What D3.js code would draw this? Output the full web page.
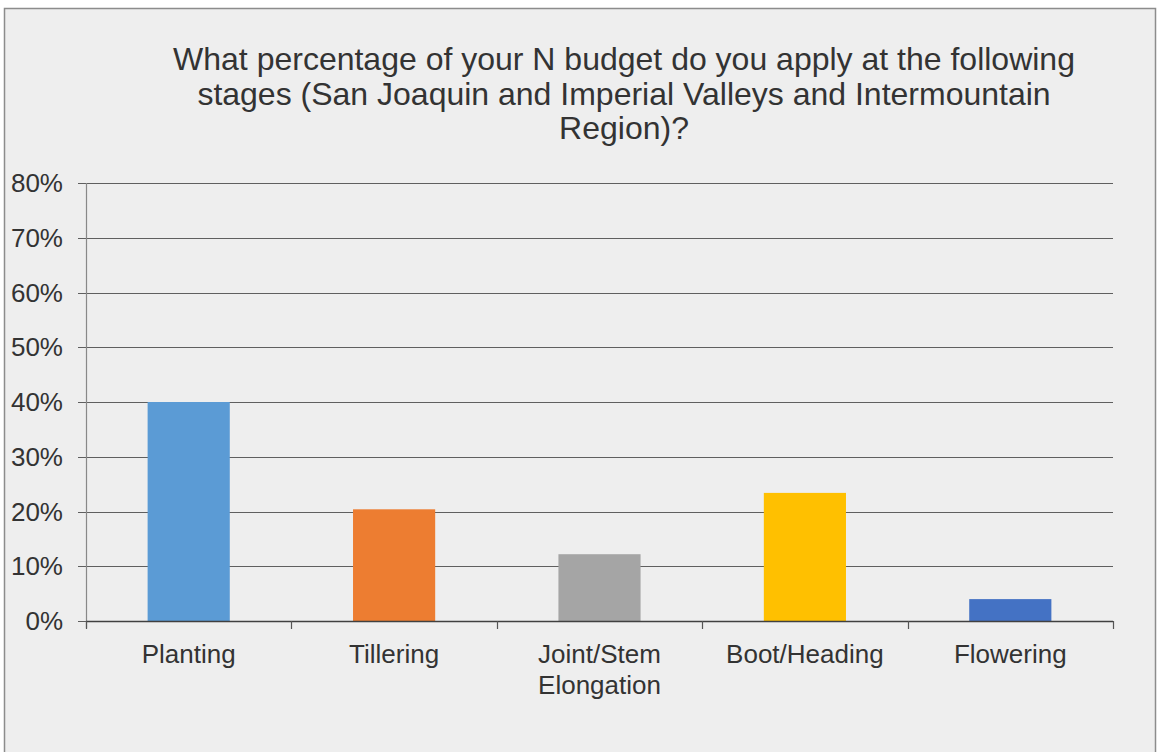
<!DOCTYPE html>
<html><head><meta charset="utf-8">
<script src="https://cdn.jsdelivr.net/npm/d3@7"></script>
<style>
html,body{margin:0;padding:0;background:#fff;}
svg{display:block;}
</style></head>
<body>
<script>
const categories = [["Planting"],["Tillering"],["Joint/Stem","Elongation"],["Boot/Heading"],["Flowering"]];
const values = [40, 20.4, 12.2, 23.4, 4.0];
const colors = ["#5b9bd5","#ed7d31","#a5a5a5","#ffc000","#4472c4"];
const yTicks = [0,10,20,30,40,50,60,70,80];
const titleLines = ["What percentage of your N budget do you apply at the following","stages (San Joaquin and Imperial Valleys and Intermountain","Region)?"];

(function(){
const W=1157,H=752;
const svg=d3.select("body").append("svg").attr("width",W).attr("height",H);
svg.append("rect").attr("x",4.5).attr("y",8.5).attr("width",1151).attr("height",760)
  .attr("fill","#eeeeee").attr("stroke","#8c8c8c").attr("stroke-width",1.5);

const pl=86,pr=1113,pt=183,pb=621;
const x=d3.scaleBand().domain(categories.map((d,i)=>i)).range([pl,pr]).paddingInner(0.6).paddingOuter(0.3);
const y=d3.scaleLinear().domain([0,80]).range([pb,pt]);

// title
const t=svg.append("text").attr("text-anchor","middle").attr("fill","#333")
  .style("font-family","Liberation Sans, Arial, sans-serif").style("font-size","32px");
titleLines.forEach((l,i)=>t.append("tspan").attr("x",624).attr("y",70+i*34.5).text(l));

// gridlines
svg.append("g").selectAll("line").data(yTicks).join("line")
  .attr("x1",78).attr("x2",pr).attr("y1",d=>Math.round(y(d))+0.5).attr("y2",d=>Math.round(y(d))+0.5)
  .attr("stroke","#5f5f5f").attr("stroke-width",1.2);

// bars
svg.append("g").selectAll("rect").data(values).join("rect")
  .attr("x",(d,i)=>x(i)).attr("width",x.bandwidth())
  .attr("y",d=>y(d)).attr("height",d=>pb-y(d)).attr("fill",(d,i)=>colors[i]);

// y axis line
svg.append("line").attr("x1",pl+0.5).attr("x2",pl+0.5).attr("y1",pt).attr("y2",pb+7)
  .attr("stroke","#888").attr("stroke-width",1.2);
// x axis
svg.append("line").attr("x1",pl).attr("x2",pr).attr("y1",pb+0.5).attr("y2",pb+0.5)
  .attr("stroke","#404040").attr("stroke-width",1.3);
const xt=d3.range(categories.length+1).map(i=>pl+i*(pr-pl)/categories.length);
svg.append("g").selectAll("line").data(xt).join("line")
  .attr("x1",d=>Math.round(d)+0.5).attr("x2",d=>Math.round(d)+0.5).attr("y1",pb).attr("y2",pb+8)
  .attr("stroke","#555").attr("stroke-width",1.2);

// y labels
svg.append("g").selectAll("text").data(yTicks).join("text")
  .attr("x",63).attr("y",d=>y(d)+9).attr("text-anchor","end").attr("fill","#333")
  .style("font-family","Liberation Sans, Arial, sans-serif").style("font-size","26px")
  .text(d=>d+"%");

// x labels
const xl=svg.append("g").selectAll("text").data(categories).join("text")
  .attr("text-anchor","middle").attr("fill","#333")
  .style("font-family","Liberation Sans, Arial, sans-serif").style("font-size","26px");
xl.each(function(d,i){
  d3.select(this).selectAll("tspan").data(d).join("tspan")
    .attr("x",x(i)+x.bandwidth()/2).attr("y",(l,j)=>663+j*31).text(l=>l);
});
})();
</script>
</body></html>
